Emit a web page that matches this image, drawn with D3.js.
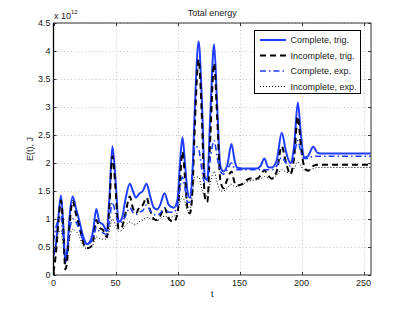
<!DOCTYPE html>
<html>
<head>
<meta charset="utf-8">
<script src="https://cdn.jsdelivr.net/npm/d3@7"></script>
<style>
  body { margin: 0; background: #fff; }
  text { font-family: "Liberation Sans", Arial, sans-serif; fill: #222; }
</style>
</head>
<body>
<svg id="vis" width="411" height="309"></svg>
<script>
// time samples shared by all four series
const tValues = [0, 2, 4, 6, 8, 9.5, 11, 13, 15.5, 18, 21, 24, 27, 30, 32, 34.5, 37, 40, 43, 45,
  47.5, 50, 52.5, 55, 58, 61.5, 64, 66.5, 69, 72, 75, 78, 81, 83.5, 86, 89.5, 93, 97, 100, 102,
  104, 106, 108, 110, 112, 114, 117, 119.5, 122, 124, 126.5, 129.5, 132, 134.5, 137, 140, 143.5, 146, 148, 152,
  156, 160, 164, 167, 170, 173, 176, 180, 184, 187.5, 191, 194, 197, 199.5, 202, 205, 209.5, 213, 218, 225,
  235, 245, 256];

// energies in units of 1e12 J
const completeTrig = [0.35, 0.55, 1.05, 1.42, 0.85, 0.22, 0.4, 1.05, 1.40, 1.2, 0.95, 0.68, 0.55, 0.62, 0.8, 1.18, 0.95, 0.9, 0.78, 1.35,
  2.30, 1.7, 0.95, 1.0, 1.35, 1.63, 1.5, 1.38, 1.45, 1.5, 1.63, 1.4, 1.2, 1.17, 1.25, 1.46, 1.25, 1.2, 1.35, 2.0,
  2.46, 2.0, 1.5, 1.38, 1.8, 3.0, 4.17, 3.2, 1.75, 1.7, 2.9, 4.12, 3.0, 1.95, 1.85, 1.95, 2.34, 2.05, 1.92, 1.9,
  1.9, 1.9, 1.9, 1.95, 2.08, 1.93, 1.92, 2.05, 2.54, 2.2, 2.0, 2.3, 3.08, 2.5, 2.1, 2.12, 2.29, 2.18, 2.17, 2.17,
  2.17, 2.17, 2.17];

const incompleteTrig = [0.05, 0.4, 0.95, 1.33, 0.75, 0.1, 0.25, 0.9, 1.32, 1.1, 0.85, 0.58, 0.48, 0.5, 0.62, 0.98, 0.85, 0.8, 0.68, 1.2,
  2.12, 1.55, 0.82, 0.85, 1.1, 1.4, 1.2, 1.1, 1.2, 1.25, 1.38, 1.15, 1.0, 0.98, 1.05, 1.2, 1.0, 0.95, 1.1, 1.7,
  2.2, 1.75, 1.2, 1.1, 1.5, 2.7, 3.85, 2.9, 1.4, 1.3, 2.5, 3.78, 2.8, 1.7, 1.55, 1.7, 1.85, 1.65, 1.6, 1.62,
  1.7, 1.73, 1.72, 1.78, 1.87, 1.78, 1.72, 1.85, 2.3, 2.0, 1.8, 2.1, 2.83, 2.3, 1.95, 1.86, 1.95, 1.97, 1.97, 1.97,
  1.97, 1.97, 1.97];

const completeExp = [0.6, 0.85, 1.0, 1.05, 0.6, 0.35, 0.45, 0.8, 1.0, 0.95, 0.8, 0.62, 0.55, 0.58, 0.66, 0.85, 0.78, 0.75, 0.72, 0.95,
  1.3, 1.1, 0.92, 0.95, 1.05, 1.2, 1.12, 1.08, 1.12, 1.15, 1.25, 1.15, 1.08, 1.07, 1.1, 1.2, 1.12, 1.12, 1.25, 1.55,
  1.75, 1.55, 1.3, 1.3, 1.9, 2.3, 2.25, 1.9, 1.65, 1.7, 2.1, 2.4, 2.1, 1.85, 1.8, 1.88, 2.0, 1.9, 1.88, 1.88,
  1.88, 1.88, 1.88, 1.88, 1.88, 1.88, 1.88, 1.95, 2.1, 2.0, 1.95, 2.15, 2.4, 2.2, 2.08, 2.08, 2.12, 2.12, 2.12, 2.12,
  2.12, 2.12, 2.12];

const incompleteExp = [0.3, 0.55, 0.75, 0.8, 0.5, 0.25, 0.35, 0.65, 0.82, 0.78, 0.68, 0.52, 0.47, 0.5, 0.55, 0.68, 0.65, 0.64, 0.64, 0.8,
  1.0, 0.9, 0.78, 0.8, 0.88, 0.95, 0.92, 0.9, 0.95, 0.98, 1.03, 1.0, 0.98, 0.97, 1.0, 1.05, 1.03, 1.05, 1.12, 1.3,
  1.4, 1.3, 1.15, 1.15, 1.45, 1.75, 1.75, 1.55, 1.4, 1.42, 1.65, 1.85, 1.65, 1.5, 1.5, 1.55, 1.62, 1.58, 1.58, 1.62,
  1.66, 1.69, 1.7, 1.72, 1.76, 1.74, 1.74, 1.78, 1.88, 1.84, 1.82, 1.9, 2.02, 1.95, 1.88, 1.88, 1.9, 1.92, 1.92, 1.92,
  1.92, 1.92, 1.92];

const seriesNames = ['Complete, trig.', 'Incomplete, trig.', 'Complete, exp.', 'Incomplete, exp.'];
const xTicks = [0, 50, 100, 150, 200, 250];
const yTicks = [0, 0.5, 1, 1.5, 2, 2.5, 3, 3.5, 4, 4.5];

const svg = d3.select('#vis');
const margin = { top: 23, right: 40, bottom: 34, left: 53.5 };
const width = +svg.attr('width');
const height = +svg.attr('height');

const x = d3.scaleLinear().domain([0, 256]).range([margin.left, width - margin.right]);
const y = d3.scaleLinear().domain([0, 4.5]).range([height - margin.bottom, margin.top]);

const x0 = x.range()[0], x1 = x.range()[1];
const y0 = y.range()[0], y1 = y.range()[1];

// grid
const grid = svg.append('g')
  .attr('stroke', '#c4c4c4')
  .attr('stroke-width', 1)
  .attr('stroke-dasharray', '1,2.5');
xTicks.slice(1).forEach(t => {
  grid.append('line')
    .attr('x1', Math.round(x(t)) + 0.5).attr('x2', Math.round(x(t)) + 0.5)
    .attr('y1', y1).attr('y2', y0);
});
yTicks.slice(1).forEach(v => {
  grid.append('line')
    .attr('x1', x0).attr('x2', x1)
    .attr('y1', Math.round(y(v)) + 0.5).attr('y2', Math.round(y(v)) + 0.5);
});

// series
const styles = [
  { data: completeTrig, color: '#1f3dff', width: 2, dash: null },
  { data: incompleteTrig, color: '#000', width: 2, dash: '6,4' },
  { data: completeExp, color: '#1f3dff', width: 1.6, dash: '6,3,1.5,3' },
  { data: incompleteExp, color: '#000', width: 1, dash: '1,2' },
];

svg.append('clipPath').attr('id', 'plotclip')
  .append('rect').attr('x', x0).attr('y', y1).attr('width', x1 - x0).attr('height', y0 - y1);

const line = d3.line()
  .x(d => x(d[0]))
  .y(d => y(d[1]))
  .curve(d3.curveMonotoneX);

const plot = svg.append('g').attr('clip-path', 'url(#plotclip)');
styles.forEach(s => {
  plot.append('path')
    .datum(tValues.map((t, i) => [t, s.data[i]]))
    .attr('fill', 'none')
    .attr('stroke', s.color)
    .attr('stroke-width', s.width)
    .attr('stroke-dasharray', s.dash)
    .attr('stroke-linejoin', 'round')
    .attr('d', line);
});

// axes box and inward ticks
const box = svg.append('g');
box.append('rect')
  .attr('x', x0).attr('y', y1).attr('width', x1 - x0).attr('height', y0 - y1)
  .attr('fill', 'none').attr('stroke', '#555').attr('stroke-width', 1.2);
box.append('line')
  .attr('x1', x0).attr('x2', x0).attr('y1', y1).attr('y2', y0)
  .attr('stroke', '#000').attr('stroke-width', 1.2);

xTicks.forEach(t => {
  const px = Math.round(x(t)) + 0.5;
  box.append('line').attr('x1', px).attr('x2', px).attr('y1', y0).attr('y2', y0 - 3).attr('stroke', '#333');
  box.append('line').attr('x1', px).attr('x2', px).attr('y1', y1).attr('y2', y1 + 3).attr('stroke', '#333');
  svg.append('text')
    .attr('x', x(t)).attr('y', 286)
    .style('font-size', '9px')
    .style('text-anchor', 'middle')
    .text(t);
});

yTicks.forEach(v => {
  const py = Math.round(y(v)) + 0.5;
  box.append('line').attr('x1', x0).attr('x2', x0 + 3).attr('y1', py).attr('y2', py).attr('stroke', '#333');
  box.append('line').attr('x1', x1).attr('x2', x1 - 3).attr('y1', py).attr('y2', py).attr('stroke', '#333');
  svg.append('text')
    .attr('x', 50.5).attr('y', y(v) + 3.3)
    .style('font-size', '9px')
    .style('text-anchor', 'end')
    .text(v);
});

// exponent label
svg.append('text')
  .attr('x', 54).attr('y', 19)
  .style('font-size', '9px')
  .text('x 10');
svg.append('text')
  .attr('x', 71).attr('y', 13.5)
  .style('font-size', '6px')
  .text('12');

// title and axis labels
svg.append('text')
  .attr('x', (x0 + x1) / 2).attr('y', 16)
  .style('font-size', '9px')
  .style('text-anchor', 'middle')
  .text('Total energy');

svg.append('text')
  .attr('x', (x0 + x1) / 2).attr('y', 296.5)
  .style('font-size', '9px')
  .style('text-anchor', 'middle')
  .text('t');

svg.append('text')
  .attr('transform', `translate(33,${(y0 + y1) / 2}) rotate(-90)`)
  .style('font-size', '9px')
  .style('text-anchor', 'middle')
  .text('E(t), J');

// legend
const legend = svg.append('g');
legend.append('rect')
  .attr('x', 254.5).attr('y', 30.5).attr('width', 106).attr('height', 63)
  .attr('fill', '#fff').attr('stroke', '#000').attr('stroke-width', 1);
const rowY = [40, 55.5, 71, 86.5];
seriesNames.forEach((name, i) => {
  const s = styles[i];
  legend.append('line')
    .attr('x1', 260).attr('x2', 286)
    .attr('y1', rowY[i]).attr('y2', rowY[i])
    .attr('stroke', s.color)
    .attr('stroke-width', s.width)
    .attr('stroke-dasharray', s.dash);
  legend.append('text')
    .attr('x', 290.5).attr('y', rowY[i] + 3.2)
    .style('font-size', '9px')
    .text(name);
});
</script>
</body>
</html>
